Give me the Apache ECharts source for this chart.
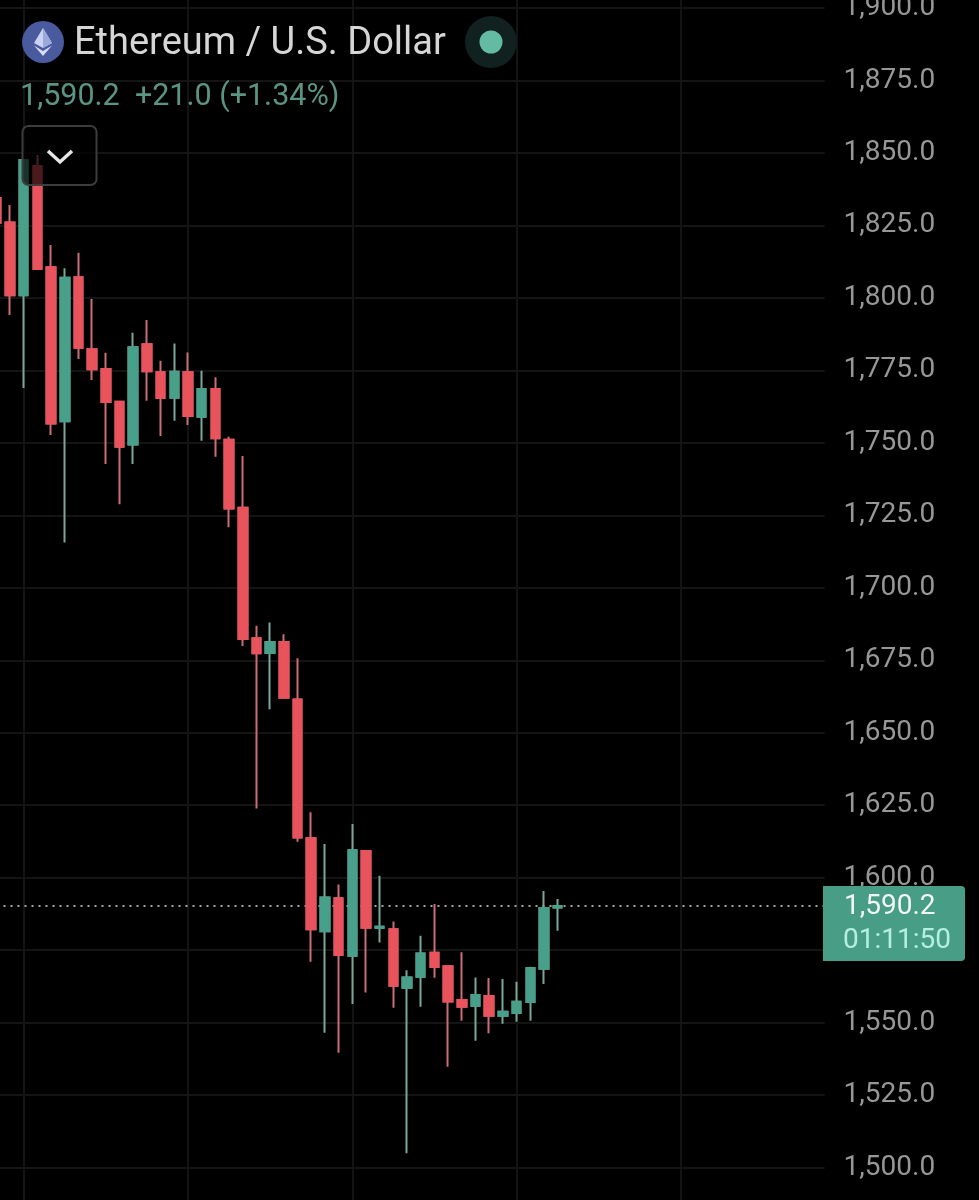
<!DOCTYPE html>
<html>
<head>
<meta charset="utf-8">
<title>Ethereum / U.S. Dollar</title>
<style>
  html, body { margin: 0; padding: 0; background: #000; }
  #chart { width: 979px; height: 1200px; }
</style>
<script src="https://cdn.jsdelivr.net/npm/echarts@6/dist/echarts.min.js"></script>
</head>
<body>
<div id="chart"></div>
<script>
// ETHUSD candles, oldest first
const opens = [1834.5, 1826.0, 1800.9, 1845.5, 1810.6, 1757.5, 1807.1, 1782.3, 1775.5, 1764.2, 1749.4, 1784.0, 1774.4, 1765.6, 1774.4, 1759.0, 1768.6, 1751.1, 1727.6, 1682.6, 1677.5, 1681.3, 1661.5, 1613.6, 1581.5, 1592.9, 1573.1, 1609.2, 1582.7, 1582.2, 1562.0, 1565.8, 1574.1, 1569.4, 1557.8, 1555.8, 1559.2, 1552.4, 1553.3, 1557.1, 1568.6, 1589.7];
const closes = [1825.9, 1800.9, 1847.6, 1810.0, 1756.7, 1807.0, 1782.8, 1775.4, 1764.1, 1748.7, 1783.0, 1774.7, 1765.5, 1774.5, 1759.3, 1768.6, 1751.6, 1727.4, 1682.3, 1677.4, 1681.3, 1662.1, 1613.9, 1582.2, 1593.2, 1573.3, 1609.5, 1582.7, 1583.1, 1562.7, 1565.6, 1573.8, 1569.2, 1557.3, 1555.5, 1559.5, 1552.4, 1553.7, 1557.2, 1568.8, 1589.5, 1590.2];
const lows = [1825.9, 1794.1, 1768.9, 1810.0, 1752.7, 1715.6, 1778.9, 1771.7, 1742.7, 1728.8, 1742.7, 1764.5, 1752.4, 1757.6, 1756.2, 1750.7, 1745.2, 1720.9, 1679.9, 1623.9, 1658.1, 1661.7, 1612.4, 1571.0, 1546.5, 1539.6, 1556.4, 1560.4, 1577.6, 1555.1, 1504.9, 1555.5, 1565.5, 1534.8, 1550.6, 1543.7, 1546.3, 1549.6, 1550.3, 1550.6, 1563.3, 1581.7];
const highs = [1836.0, 1832.1, 1847.6, 1849.3, 1818.3, 1810.2, 1815.6, 1799.6, 1781.1, 1764.5, 1788.0, 1792.4, 1778.3, 1784.3, 1781.2, 1774.9, 1772.6, 1752.1, 1745.5, 1686.9, 1688.0, 1684.0, 1675.7, 1622.6, 1611.6, 1597.6, 1618.5, 1609.5, 1600.7, 1584.9, 1568.1, 1580.0, 1590.9, 1569.5, 1574.3, 1565.6, 1565.4, 1565.0, 1564.1, 1569.3, 1595.4, 1592.6];

// Bar slots across the pane, including the empty space right of the last candle
const SLOT_COUNT = 61;
const slots = Array.from({ length: SLOT_COUNT }, (_, i) => String(i));

const lastPrice = 1590.2;
const countdown = '01:11:50';
const instrument = 'Ethereum / U.S. Dollar';
const quoteLine = '1,590.2  +21.0 (+1.34%)';

const UP = '#49a08a';
const DOWN = '#e9535c';
const UP_WICK = '#79a89b';
const DOWN_WICK = '#c96e76';
const GRID = '#141414';
const FONT = 'Roboto, sans-serif';

// Full candles supply the wicks; a second layer repaints the bodies in the stronger colours
const candles = opens.map((o, i) => [o, closes[i], lows[i], highs[i]]);
const bodies = opens.map((o, i) => [o, closes[i], Math.min(o, closes[i]), Math.max(o, closes[i])]);
const priceFormat = v => v.toLocaleString('en-US', { minimumFractionDigits: 1, maximumFractionDigits: 1 });

const chart = echarts.init(document.getElementById('chart'), null, { renderer: 'canvas' });

const BAND = 13.69;
const PANE_LEFT = -10.5;

chart.setOption({
  animation: false,
  backgroundColor: '#000',
  grid: {
    left: PANE_LEFT,
    top: -64.4,
    width: BAND * SLOT_COUNT,
    height: 1304.4,
    containLabel: false,
    outerBoundsMode: 'none'
  },
  xAxis: {
    type: 'category',
    data: slots,
    boundaryGap: true,
    axisLine: { show: false },
    axisTick: { show: false },
    axisLabel: { show: false },
    splitLine: {
      show: true,
      alignWithLabel: true,
      interval: i => i % 12 === 2,
      lineStyle: { color: GRID, width: 2 }
    }
  },
  yAxis: {
    type: 'value',
    position: 'right',
    min: 1475,
    max: 1925,
    interval: 25,
    axisLine: { show: false },
    axisTick: { show: false },
    splitLine: { show: true, lineStyle: { color: GRID, width: 2 } },
    axisLabel: {
      color: '#979797',
      fontFamily: FONT,
      fontSize: 28,
      margin: 19,
      padding: [0, 0, 6, 0],
      formatter: priceFormat
    }
  },
  series: [{
    name: 'wicks',
    type: 'candlestick',
    data: candles,
    barWidth: 9,
    z: 2,
    itemStyle: {
      color: UP_WICK,
      color0: DOWN_WICK,
      borderColor: UP_WICK,
      borderColor0: DOWN_WICK,
      borderWidth: 2
    },
    markLine: {
      silent: true,
      symbol: 'none',
      animation: false,
      z: 1,
      label: { show: false },
      lineStyle: { color: '#a3a3a3', type: [2, 5], width: 2 },
      data: [{ yAxis: lastPrice }]
    }
  }, {
    name: 'bodies',
    type: 'candlestick',
    data: bodies,
    barWidth: 9,
    z: 3,
    itemStyle: {
      color: UP,
      color0: DOWN,
      borderColor: UP,
      borderColor0: DOWN,
      borderWidth: 2
    }
  }]
});

// Price tag and header sit on top of the pane
const priceY = chart.convertToPixel({ yAxisIndex: 0 }, lastPrice);

chart.setOption({
  graphic: [
    { type: 'rect', shape: { x: 823, y: priceY - 20, width: 142, height: 75, r: [0, 4, 4, 0] }, style: { fill: '#479d86' }, z: 20 },
    { type: 'text', x: 844, y: priceY + 1, style: { text: priceFormat(lastPrice), fill: '#f2f7f5', font: '28px ' + FONT, textVerticalAlign: 'middle' }, z: 21 },
    { type: 'text', x: 843, y: priceY + 35, style: { text: countdown, fill: '#b4efe0', font: '28px ' + FONT, textVerticalAlign: 'middle' }, z: 21 },

    // Coin badge
    { type: 'circle', shape: { cx: 43, cy: 42, r: 21 }, style: { fill: '#4a5a9e' }, z: 20 },
    { type: 'polygon', shape: { points: [[43, 28], [52, 43], [43, 48], [34, 43]] }, style: { fill: '#c9d2f0' }, z: 21 },
    { type: 'polygon', shape: { points: [[43, 28], [52, 43], [43, 48]] }, style: { fill: '#9aa8dc' }, z: 21 },
    { type: 'polygon', shape: { points: [[34, 45.5], [43, 51], [52, 45.5], [43, 56]] }, style: { fill: '#d5dcf5' }, z: 21 },

    { type: 'text', x: 74, y: 44, style: { text: instrument, fill: '#d6d6d6', font: '38px ' + FONT, textVerticalAlign: 'middle' }, z: 21 },
    { type: 'text', x: 20, y: 97, style: { text: quoteLine, fill: '#5c9484', font: '30.5px ' + FONT, textVerticalAlign: 'middle' }, z: 21 },

    // Market status dot
    { type: 'circle', shape: { cx: 491, cy: 42, r: 26 }, style: { fill: '#10211f' }, z: 20 },
    { type: 'circle', shape: { cx: 491, cy: 42, r: 11.5 }, style: { fill: '#63bba3' }, z: 21 },

    // Collapse button
    { type: 'rect', shape: { x: 22.5, y: 126, width: 74, height: 59, r: 6 }, style: { fill: 'rgba(0,0,0,0.68)', stroke: '#3d3d3d', lineWidth: 2 }, z: 20 },
    { type: 'polyline', shape: { points: [[48, 151], [60, 162], [72, 151]] }, style: { stroke: '#e6e6e6', lineWidth: 3.5, fill: null }, z: 21 }
  ]
});
</script>
</body>
</html>
